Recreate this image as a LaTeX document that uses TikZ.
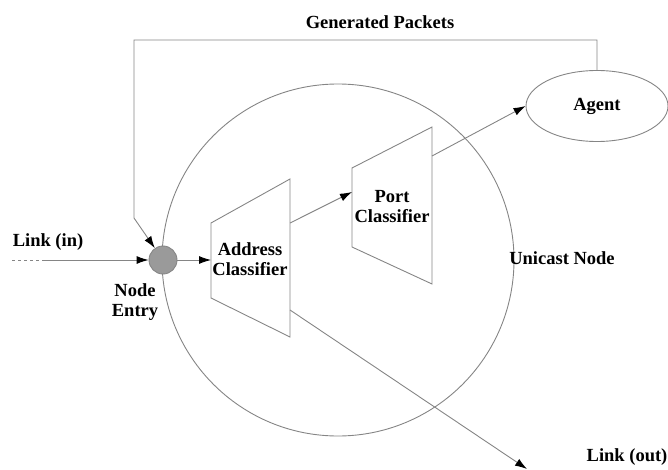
\documentclass[tikz,border=0pt]{standalone}
\usepackage{fontspec}
\setmainfont{Liberation Serif}
\usetikzlibrary{arrows.meta, positioning, shapes.geometric, calc}
\definecolor{wire}{HTML}{858585}
\definecolor{entrygrey}{HTML}{9A9A9A}
\tikzset{
  lbl/.style={font=\fontsize{18.5}{20}\selectfont\bfseries, align=center, inner sep=0pt},
  wireline/.style={draw=wire, line width=0.9pt},
  arrow/.style={wireline, -{Latex[black, length=12pt, width=8pt]}},
  classifier/.style={wireline, line join=miter},
}
\begin{document}
\begin{tikzpicture}[x=1pt, y=-1pt]
\useasboundingbox (0,0) rectangle (668,470);
% unicast node
\draw[wireline] (338,260) circle (176);
\node[lbl] (unicast) at (562,258) {Unicast Node};
% node entry
\node[circle, draw=wire, line width=0.9pt, fill=entrygrey, minimum size=28pt, inner sep=0pt] (entry) at (163,260) {};
\node[lbl] (entrylbl) at (135,302) {Node\\Entry};
% address classifier
\draw[classifier] (211,223) -- (290,179) -- (290,337) -- (211,298) -- cycle;
\coordinate (addrin) at (211,260);
\coordinate (addrup) at (290,223);
\coordinate (addrdown) at (290,310);
\node[lbl] (addr) at (250,259) {Address\\Classifier};
% port classifier
\draw[classifier] (352,168) -- (432,127) -- (432,284) -- (352,247) -- cycle;
\coordinate (portin) at (352,192);
\coordinate (portout) at (432,156);
\node[lbl] (port) at (392,207) {Port\\Classifier};
% agent
\node[ellipse, draw=wire, line width=0.9pt, minimum width=142pt, minimum height=71pt, lbl] (agent) at (597,106) {Agent};
% links
\coordinate (linkstart) at (12,260);
\coordinate (linkdash) at (42,260);
\coordinate (linkend) at (527,469);
\node[lbl] (linkin) at (48,242) {Link (in)};
\node[lbl] (linkout) at (627,457) {Link (out)};
\draw[wireline, dash pattern=on 3pt off 3pt] (linkstart) -- (linkdash);
\draw[arrow] (linkdash) -- (entry);
\draw[arrow] (entry) -- (addrin);
\draw[arrow] (addrup) -- (portin);
\draw[arrow] (portout) -- (agent.west);
\draw[arrow] (addrdown) -- (linkend);
% generated packets
\coordinate (topright) at (597,40);
\coordinate (topleft) at (134,40);
\coordinate (bend) at (134,218);
\draw[arrow] (agent.north) -- (topright) -- (topleft) -- (bend) -- (entry);
\node[lbl] (gen) at (380,22) {Generated Packets};
\end{tikzpicture}
\end{document}
